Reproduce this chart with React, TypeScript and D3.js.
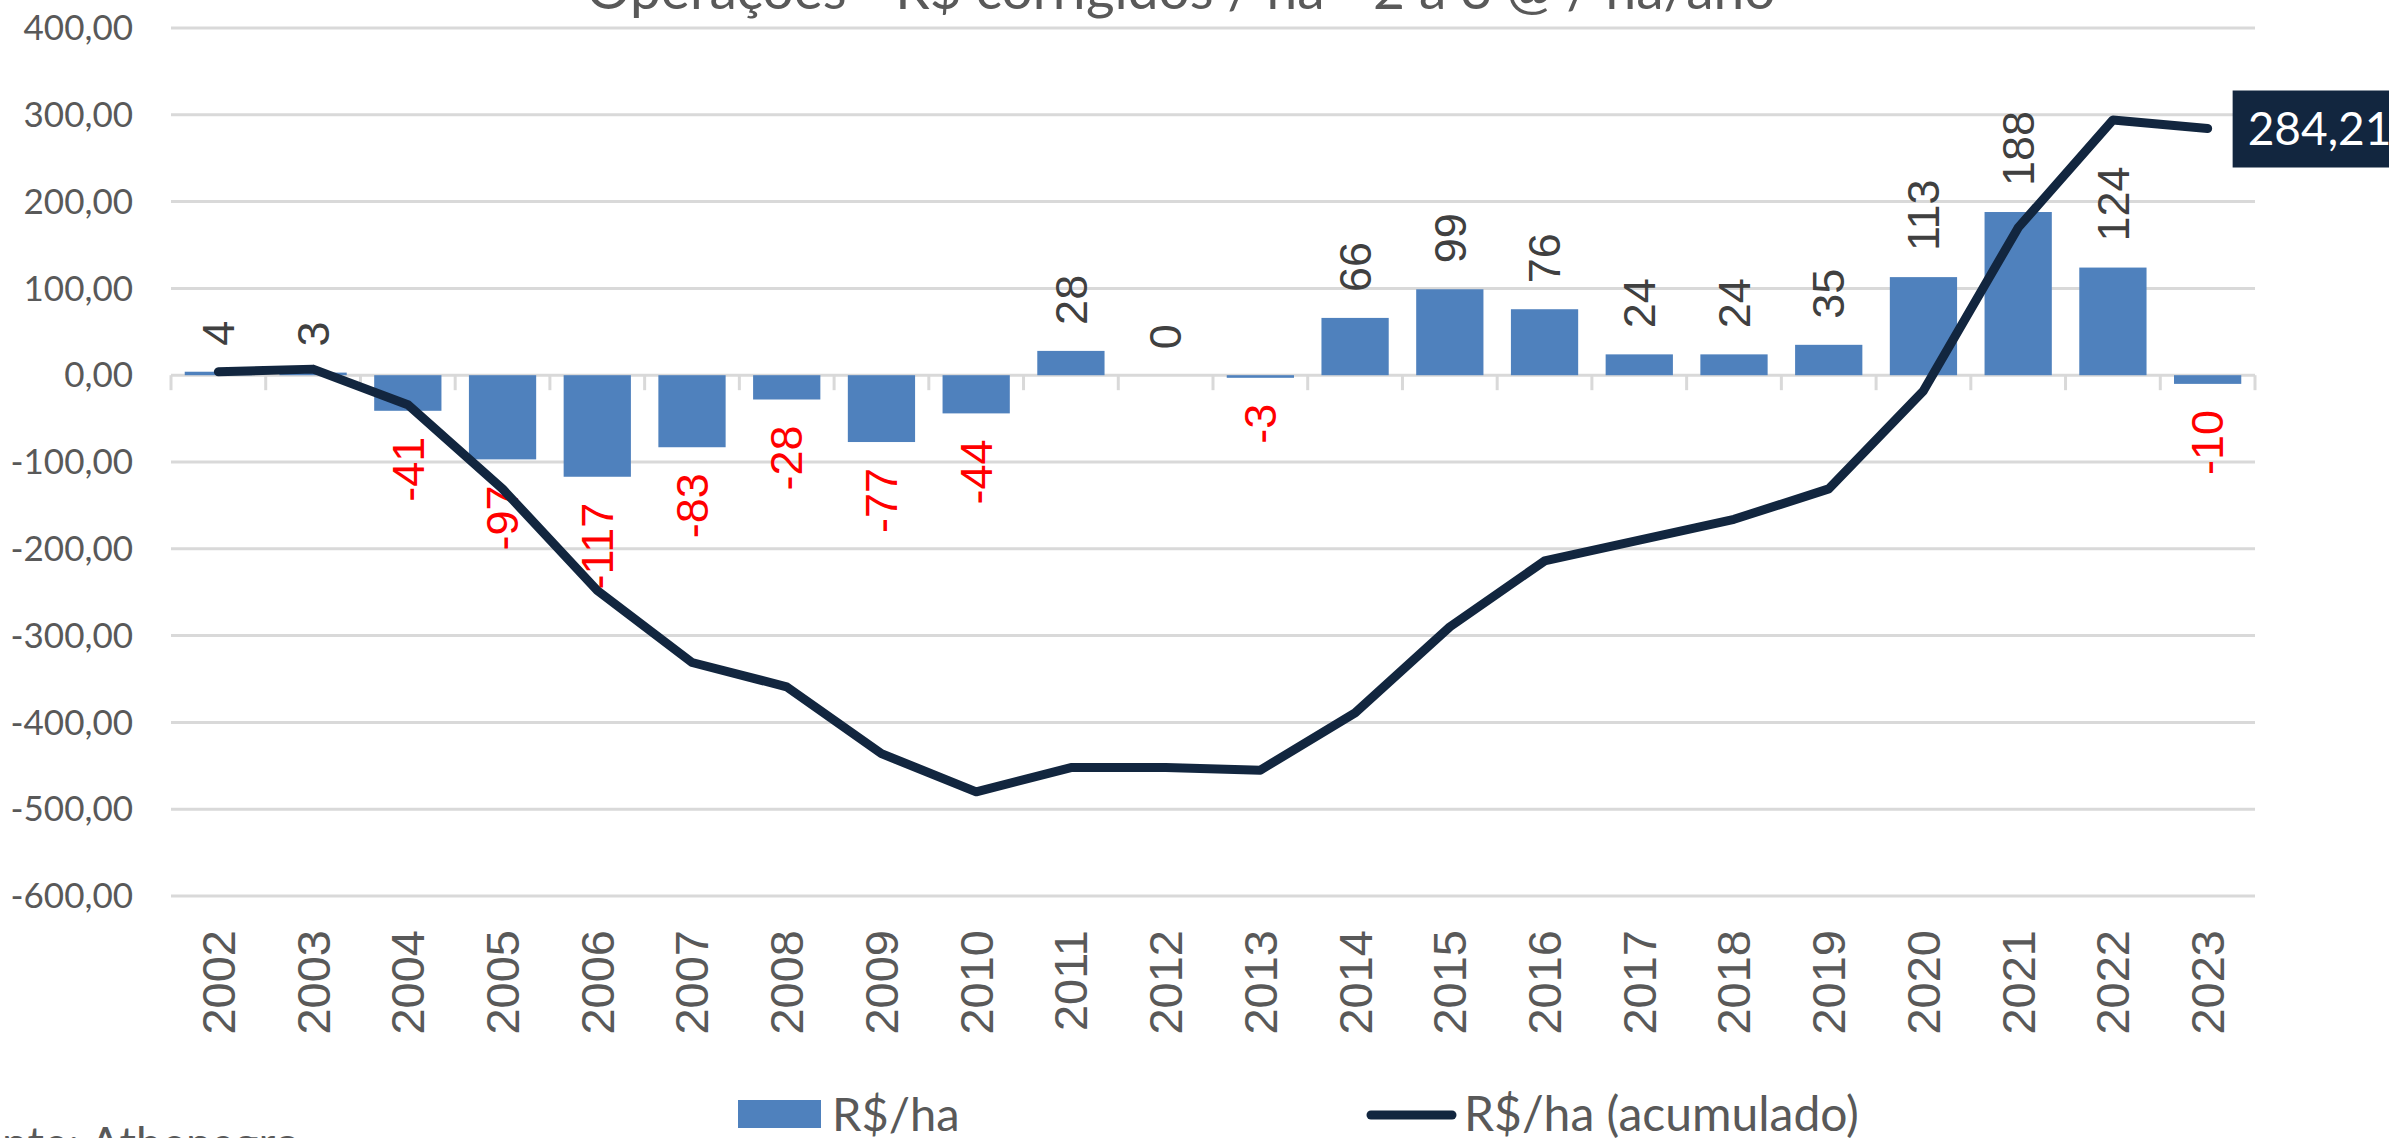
import React from 'react';
import * as d3 from 'd3';

const W = 2389;
const H = 1138;

const titleText = 'Operações - R$ corrigidos / ha - 2 a 3 @ / ha/ano';
const sourceText = 'Fonte: Athenagro';

const years = ['2002', '2003', '2004', '2005', '2006', '2007', '2008', '2009', '2010', '2011', '2012',
  '2013', '2014', '2015', '2016', '2017', '2018', '2019', '2020', '2021', '2022', '2023'];

// R$/ha per year (bars)
const perYear = [4, 3, -41, -97, -117, -83, -28, -77, -44, 28, 0, -3, 66, 99, 76, 24, 24, 35, 113, 188, 124, -10];

// R$/ha accumulated (line)
const accumulated = [4, 7, -34, -131, -248, -331, -359, -436, -480, -452, -452, -455, -389, -290, -214,
  -190, -166, -131, -18, 170, 294, 284.21];

const yTicks = [400, 300, 200, 100, 0, -100, -200, -300, -400, -500, -600];

const barColor = '#4f81bd';
const lineColor = '#12263f';
const gridColor = '#d9d9d9';
const textGray = '#595959';

const fmt = (v: number) => v.toFixed(2).replace('.', ',');

export default function App() {
  const left = 171, right = 2255, top = 28, bottom = 896;

  const x = d3.scaleBand<string>()
    .domain(years)
    .range([left, right])
    .paddingInner(0.29)
    .paddingOuter(0.145);
  const y = d3.scaleLinear().domain([-600, 400]).range([bottom, top]);

  const cx = (i: number) => (x(years[i]) as number) + x.bandwidth() / 2;
  const step = x.step();

  const line = d3.line<number>()
    .x((_, i) => cx(i))
    .y(d => y(d));

  const last = accumulated.length - 1;
  const lastX = cx(last);
  const lastY = y(accumulated[last]);

  return (
    <>
      <style>{'body{margin:0;overflow:hidden}'}</style>
      <svg width={W} height={H} viewBox={`0 0 ${W} ${H}`} style={{ display: 'block', background: '#fff' }}>
        {/* title, mostly cut off above */}
        <text x={1181} y={9} textAnchor="middle" fontFamily="Lato, 'Open Sans', sans-serif" fontSize={55} fill={textGray}>
          {titleText}
        </text>

        {/* gridlines + y axis labels */}
        {yTicks.map(t => (
          <g key={t}>
            <line x1={left} x2={right} y1={y(t)} y2={y(t)} stroke={gridColor} strokeWidth={3} />
            <text x={133} y={y(t)} dy="0.35em" textAnchor="end" fontFamily="Lato, 'Open Sans', sans-serif"
              fontSize={35} fill={textGray}>{fmt(t)}</text>
          </g>
        ))}

        {/* category ticks under zero line */}
        {d3.range(years.length + 1).map(i => (
          <line key={i} x1={left + i * step} x2={left + i * step} y1={y(0)} y2={y(0) + 15}
            stroke={gridColor} strokeWidth={3} />
        ))}

        {/* bars */}
        {perYear.map((v, i) => (
          <rect key={years[i]} x={x(years[i])} width={x.bandwidth()}
            y={Math.min(y(v), y(0))} height={Math.abs(y(v) - y(0))} fill={barColor} />
        ))}

        {/* bar data labels */}
        {perYear.map((v, i) => {
          const neg = v < 0;
          const ly = neg ? y(v) + 26 : y(v) - 26;
          return (
            <text key={'l' + i} transform={`translate(${cx(i)},${ly}) rotate(-90)`} dy="0.35em"
              textAnchor={neg ? 'end' : 'start'} fontFamily="'Liberation Sans', Arial, sans-serif" fontSize={45}
              fill={neg ? '#ff0000' : '#404040'}>{v}</text>
          );
        })}

        {/* accumulated line */}
        <path d={line(accumulated) ?? ''} fill="none" stroke={lineColor} strokeWidth={9}
          strokeLinecap="round" strokeLinejoin="round" />

        {/* last value label */}
        <rect x={lastX + 25} y={lastY - 38} width={200} height={77} fill={lineColor} />
        <text x={lastX + 40} y={lastY} dy="0.36em" fontFamily="Lato, 'Open Sans', sans-serif" fontSize={46}
          fill="#fff">{fmt(accumulated[last])}</text>

        {/* year labels */}
        {years.map((yr, i) => (
          <text key={yr} transform={`translate(${cx(i)},${930}) rotate(-90)`} dy="0.35em" textAnchor="end"
            fontFamily="'Liberation Sans', Arial, sans-serif" fontSize={47} fill={textGray}>{yr}</text>
        ))}

        {/* legend */}
        <rect x={738} y={1100} width={83} height={28} fill={barColor} />
        <text x={832} y={1131} fontFamily="Lato, 'Open Sans', sans-serif" fontSize={47} fill={textGray}>R$/ha</text>
        <line x1={1371} x2={1452} y1={1115} y2={1115} stroke={lineColor} strokeWidth={9} strokeLinecap="round" />
        <text x={1464} y={1131} fontFamily="Lato, 'Open Sans', sans-serif" fontSize={48} fill={textGray}>R$/ha (acumulado)</text>

        {/* source, cut at the corner */}
        <text x={-48} y={1160} fontFamily="Lato, 'Open Sans', sans-serif" fontSize={46} fill={textGray}>{sourceText}</text>
      </svg>
    </>
  );
}
